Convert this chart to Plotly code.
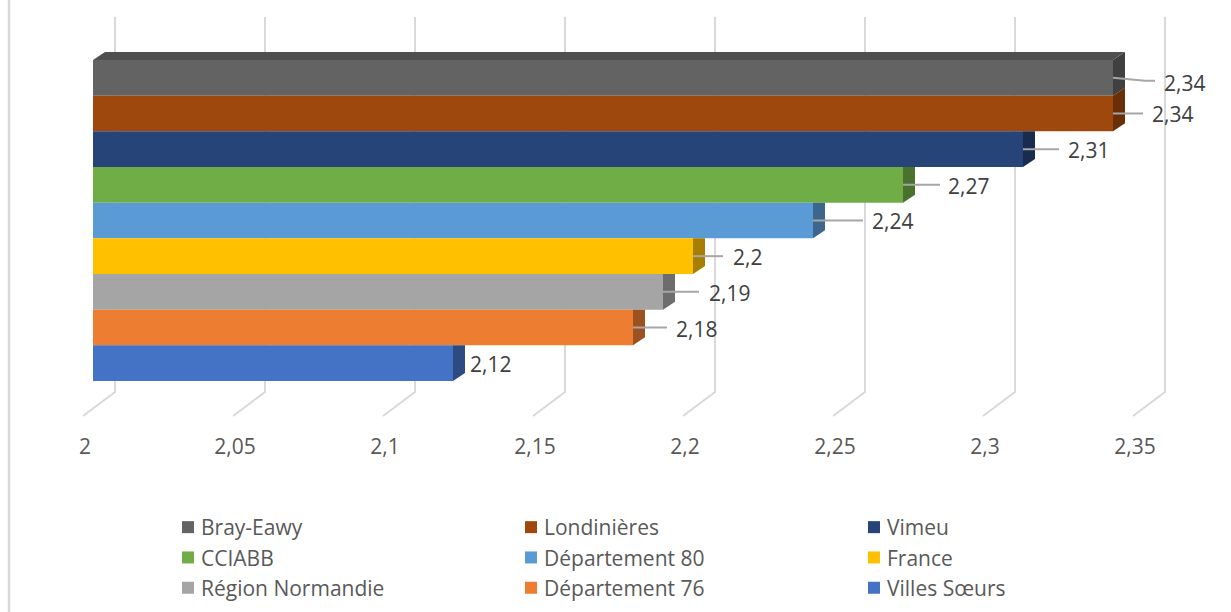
import plotly.graph_objects as go

# Data (top to bottom)
names = ["Bray-Eawy", "Londinières", "Vimeu", "CCIABB", "Département 80",
         "France", "Région Normandie", "Département 76", "Villes Sœurs"]
values = [2.34, 2.34, 2.31, 2.27, 2.24, 2.2, 2.19, 2.18, 2.12]
value_labels = ["2,34", "2,34", "2,31", "2,27", "2,24", "2,2", "2,19", "2,18", "2,12"]
front_colors = ["#636363", "#9e480e", "#264478", "#70ad47", "#5b9bd5",
                "#ffc000", "#a5a5a5", "#ed7d31", "#4472c4"]
side_colors = ["#404040", "#682f09", "#192c4f", "#4a722f", "#3c668c",
               "#a87e00", "#6d6d6d", "#9c5220", "#2d4b81"]
tick_values = [2, 2.05, 2.1, 2.15, 2.2, 2.25, 2.3, 2.35]
tick_text = ["2", "2,05", "2,1", "2,15", "2,2", "2,25", "2,3", "2,35"]

# Styling / layout constants
W, H = 1231, 612
PLOT_H = 430
BASE = 2.0
PX_PER_X = 3000.0          # pixels per value unit
ROW_PX = 35.67             # pixels per bar
X0_PX = 93.0               # pixel of value 2 at the front
BOTTOM_PX = 381.0          # pixel of bottom of lowest bar
dx = 12 / PX_PER_X
dy = 8 / ROW_PX
label_shift = [71, 59, 65, 65, 79, 54, 66, 63, 37]
label_yshift = [-5, -1, -1, -1, -1, -1, -1, -1, -1]
leader_len = [42, 30, 36, 37, 50, 30, 36, 34, 0]
FONT = "Open Sans"

n = len(values)
pos = [n - 1 - i for i in range(n)]
x_range = [BASE - X0_PX / PX_PER_X, BASE + (W - X0_PX) / PX_PER_X]
y_range = [-0.5 - (PLOT_H - BOTTOM_PX) / ROW_PX, n - 0.5 + (BOTTOM_PX - ROW_PX * n) / ROW_PX]


def py(p):
    return -0.5 + (BOTTOM_PX - p) / ROW_PX


fig = go.Figure()

for i in range(n):
    fig.add_trace(go.Bar(
        y=[pos[i]], x=[values[i] - BASE], base=[BASE], width=[1], orientation="h",
        name=names[i], marker=dict(color=front_colors[i], line=dict(width=0)),
    ))

# Side faces
for i in range(n):
    v, p = values[i], pos[i]
    clipped = i > 0 and values[i - 1] > v
    top_back = p + 0.5 if clipped else p + 0.5 + dy
    fig.add_trace(go.Scatter(
        x=[v, v + dx, v + dx, v, v],
        y=[p - 0.5, p - 0.5 + dy, top_back, p + 0.5, p - 0.5],
        mode="lines", fill="toself", fillcolor=side_colors[i],
        line=dict(width=0), showlegend=False, hoverinfo="skip",
    ))

# Top face of the uppermost bar
fig.add_trace(go.Scatter(
    x=[BASE, BASE + dx, values[0] + dx, values[0], BASE],
    y=[n - 0.5, n - 0.5 + dy, n - 0.5 + dy, n - 0.5, n - 0.5],
    mode="lines", fill="toself", fillcolor="#4f4f4f",
    line=dict(width=0), showlegend=False, hoverinfo="skip",
))

# Leader lines and labels
for i in range(n):
    v, p = values[i], pos[i]
    if leader_len[i] > 0:
        if i == 0:
            xs = [v, v + 32 / PX_PER_X, v + leader_len[i] / PX_PER_X]
            ys = [p + 0.0, p - 3 / ROW_PX, p - 3 / ROW_PX]
        else:
            xs = [v, v + leader_len[i] / PX_PER_X]
            ys = [p, p]
        fig.add_trace(go.Scatter(x=xs, y=ys, mode="lines",
                                 line=dict(color="#a6a6a6", width=2),
                                 showlegend=False, hoverinfo="skip"))
    fig.add_annotation(x=v, y=p, text=value_labels[i], showarrow=False,
                       xshift=label_shift[i], yshift=label_yshift[i],
                       font=dict(family=FONT, size=21, color="#404040"))

# Back-wall grid with the floor ticks, drawn under the bars
shapes = []
for t in tick_values:
    x_back = t + 22 / PX_PER_X
    x_floor = t - 10 / PX_PER_X
    shapes.append(dict(
        type="path", xref="x", yref="y", layer="below",
        path=f"M {x_back},{py(17)} L {x_back},{py(392)} L {x_floor},{py(416)}",
        line=dict(color="#d9d9d9", width=2),
    ))
# Chart frame on the left
shapes.append(dict(type="line", xref="paper", yref="paper", x0=9 / W, x1=9 / W,
                   y0=-(H - PLOT_H) / PLOT_H, y1=1, layer="below",
                   line=dict(color="#d9d9d9", width=2.5)))

fig.update_layout(
    width=W, height=H, autosize=False,
    margin=dict(l=0, r=0, t=0, b=H - PLOT_H, autoexpand=False),
    paper_bgcolor="white", plot_bgcolor="white",
    barmode="overlay", hovermode=False, shapes=shapes,
    xaxis=dict(range=x_range, tickmode="array", tickvals=tick_values, ticktext=tick_text,
               showgrid=False, zeroline=False, showline=False, ticks="",
               ticklabelshift=-8, ticklabelstandoff=2,
               tickfont=dict(family=FONT, size=21, color="#595959")),
    yaxis=dict(range=y_range, visible=False),
    legend=dict(orientation="h", x=168 / W, xanchor="left",
                y=-(507 - PLOT_H) / PLOT_H, yanchor="top",
                entrywidth=298, entrywidthmode="pixels", tracegroupgap=0,
                itemclick=False, itemdoubleclick=False,
                font=dict(family=FONT, size=21, color="#595959")),
)

# The page's default body margin would shift the figure; the legend text sits
# closer to its swatch in the reference than plotly's minimum item width allows.
post = """
document.body.style.margin = '0';
document.querySelectorAll('.legendtext').forEach(function (t) {
  t.setAttribute('x', parseFloat(t.getAttribute('x')) - 7);
});
"""
fig.write_html("out.html", post_script=post, config={"displayModeBar": False})
